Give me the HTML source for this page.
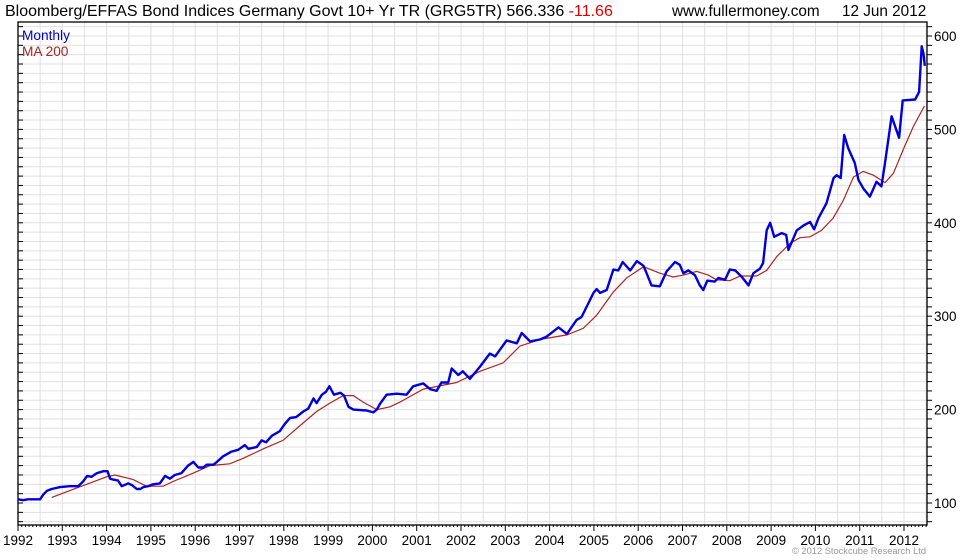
<!DOCTYPE html>
<html><head><meta charset="utf-8"><style>
body{margin:0;background:#fff;}
svg{display:block;font-family:"Liberation Sans",sans-serif;}
</style></head><body>
<svg id="s" width="980" height="560" xmlns="http://www.w3.org/2000/svg">
<rect width="980" height="560" fill="#fff"/>
<g id="grid"></g>
<rect x="18" y="22" width="909" height="503" fill="none" stroke="#000" stroke-width="1.3"/>
<g id="ticks"></g>
<polyline id="ma" fill="none" stroke="#b22222" stroke-width="1.2"/>
<polyline id="bl" fill="none" stroke="#0000dd" stroke-width="2.4" stroke-linejoin="round"/>
<text x="5" y="16" font-size="16" fill="#000">Bloomberg/EFFAS Bond Indices Germany Govt 10+ Yr TR (GRG5TR) 566.336 <tspan fill="#d00">-11.66</tspan></text>
<text x="672" y="16" font-size="15.3" fill="#000">www.fullermoney.com</text>
<text x="842" y="16" font-size="15.3" fill="#000">12 Jun 2012</text>
<text x="22" y="40" font-size="13.7" fill="#0000cc">Monthly</text>
<text x="22" y="56" font-size="13.7" fill="#aa2222">MA 200</text>
<text x="792" y="554" font-size="9.3" fill="#999">© 2012 Stockcube Research Ltd</text>
<g id="lab" font-size="13.5" fill="#000"></g>
</svg>
<script>
var NS="http://www.w3.org/2000/svg";
function X(t){return 18+(t-1992)*44.3;}
function Y(v){return 503-(v-100)*0.934;}
function el(p,n,a,txt){var e=document.createElementNS(NS,n);for(var k in a)e.setAttribute(k,a[k]);if(txt)e.textContent=txt;document.getElementById(p).appendChild(e);}
for(var v=80;v<=610;v+=10){var y=Y(v);if(y<22||y>525)continue;el("grid","line",{x1:18,x2:927,y1:y,y2:y,stroke:"#e0e0e0","stroke-width":1});
 el("ticks","line",{x1:18,x2:23,y1:y,y2:y,stroke:"#000","stroke-width":1});el("ticks","line",{x1:927,x2:932,y1:y,y2:y,stroke:"#000","stroke-width":1});}
for(var t=1992;t<=2012.5;t+=0.5){var x=X(t);el("grid","line",{x1:x,x2:x,y1:22,y2:525,stroke:"#e0e0e0","stroke-width":1});}
for(var m=0;m<=246;m++){var x=X(1992+m/12);el("ticks","line",{x1:x,x2:x,y1:525,y2:(m%12==0?531:527),stroke:"#000","stroke-width":1});}
for(var yr=1992;yr<=2012;yr++){el("lab","text",{x:X(yr),y:545,"text-anchor":"middle"},String(yr));}
for(var v=100;v<=600;v+=100){el("lab","text",{x:934,y:Y(v)+5},String(v));}
var blue=[[1992.0,104],[1992.12,103],[1992.22,104],[1992.5,104],[1992.57,109],[1992.65,113],[1992.76,115],[1992.95,117],[1993.17,118],[1993.36,118],[1993.47,123],[1993.56,129],[1993.66,128],[1993.78,132],[1993.93,134],[1994.02,134],[1994.08,126],[1994.15,125],[1994.26,124],[1994.34,118],[1994.49,121],[1994.58,119],[1994.68,115],[1994.76,115],[1994.83,117],[1994.94,118],[1995.05,120],[1995.2,121],[1995.32,129],[1995.43,126],[1995.54,130],[1995.69,132],[1995.84,140],[1995.96,144],[1996.07,138],[1996.18,138],[1996.26,141],[1996.41,141],[1996.49,144],[1996.63,150],[1996.82,155],[1996.97,157],[1997.12,162],[1997.2,158],[1997.39,160],[1997.5,167],[1997.6,165],[1997.73,172],[1997.91,177],[1998.03,185],[1998.14,191],[1998.28,192],[1998.44,198],[1998.55,201],[1998.67,212],[1998.74,207],[1998.86,216],[1998.95,219],[1999.03,225],[1999.13,216],[1999.28,218],[1999.36,215],[1999.46,203],[1999.57,200],[1999.87,199],[2000.02,197],[2000.1,200],[2000.17,206],[2000.32,216],[2000.55,217],[2000.77,216],[2000.92,225],[2001.15,228],[2001.3,222],[2001.45,220],[2001.56,229],[2001.71,229],[2001.79,244],[2001.94,237],[2002.04,241],[2002.2,233],[2002.43,246],[2002.65,260],[2002.77,257],[2003.03,274],[2003.26,271],[2003.37,282],[2003.56,273],[2003.78,275],[2003.93,278],[2004.2,288],[2004.39,281],[2004.61,296],[2004.72,299],[2004.99,325],[2005.06,329],[2005.14,325],[2005.29,328],[2005.44,350],[2005.55,349],[2005.65,358],[2005.82,349],[2005.97,359],[2006.12,354],[2006.19,346],[2006.3,333],[2006.49,332],[2006.64,348],[2006.83,358],[2006.94,355],[2007.02,346],[2007.13,349],[2007.28,344],[2007.39,333],[2007.47,328],[2007.56,338],[2007.73,337],[2007.81,341],[2007.96,339],[2008.07,350],[2008.19,349],[2008.34,342],[2008.49,333],[2008.6,346],[2008.75,351],[2008.82,357],[2008.9,392],[2008.98,400],[2009.07,385],[2009.24,389],[2009.34,387],[2009.39,371],[2009.58,392],[2009.73,397],[2009.88,401],[2009.97,393],[2010.07,405],[2010.25,421],[2010.41,448],[2010.48,451],[2010.57,448],[2010.65,494],[2010.74,480],[2010.89,464],[2010.97,446],[2011.08,437],[2011.23,428],[2011.38,444],[2011.49,439],[2011.57,464],[2011.72,514],[2011.89,491],[2011.97,531],[2012.25,532],[2012.34,540],[2012.4,589],[2012.44,581],[2012.47,568]];
var ma=[[1992.76,106],[1993.32,116],[1994.0,128],[1994.19,130],[1994.6,125],[1994.9,118],[1995.28,118],[1995.5,123],[1995.96,132],[1996.1,135],[1996.33,140],[1996.78,142],[1997.09,148],[1997.54,158],[1997.98,167],[1998.37,183],[1998.74,198],[1999.04,207],[1999.34,215],[1999.57,215],[1999.79,208],[2000.1,200],[2000.4,203],[2000.62,208],[2001.15,222],[2001.9,229],[2002.43,241],[2002.95,250],[2003.33,268],[2003.78,275],[2004.39,280],[2004.76,287],[2005.06,301],[2005.44,326],[2005.74,341],[2006.12,353],[2006.49,346],[2006.79,342],[2007.02,344],[2007.32,348],[2007.58,344],[2007.77,339],[2008.07,338],[2008.3,343],[2008.67,343],[2008.9,349],[2009.13,364],[2009.43,378],[2009.65,384],[2009.88,385],[2010.14,392],[2010.4,405],[2010.63,424],[2010.86,449],[2011.08,455],[2011.31,451],[2011.57,443],[2011.76,453],[2011.98,478],[2012.21,503],[2012.46,525]];
function pts(a){return a.map(function(p){return X(p[0]).toFixed(1)+","+Y(p[1]).toFixed(1);}).join(" ");}
document.getElementById("bl").setAttribute("points",pts(blue));
document.getElementById("ma").setAttribute("points",pts(ma));
</script>
</body></html>
